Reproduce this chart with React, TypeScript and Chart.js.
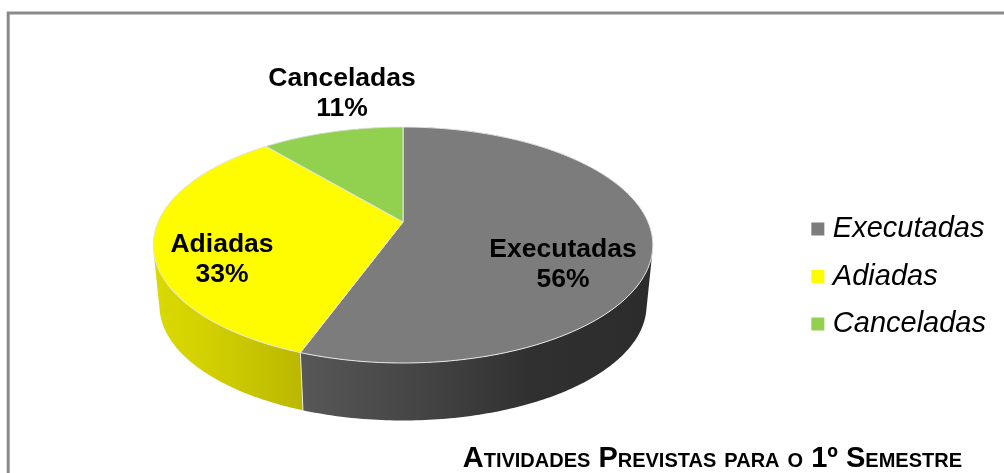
import React, { useEffect, useRef } from "react";
import { Chart, registerables } from "chart.js";

Chart.register(...registerables);

const categories = ["Executadas", "Adiadas", "Canceladas"];
const activityCounts = [5, 3, 1];
const topColors = ["#7C7C7C", "#FFFC00", "#92D050"];
const wallStops = [
  ["#575757", "#454545", "#303030", "#2C2C2C"],
  ["#D9D900", "#D2D000", "#C6C400", "#BAB700"],
  ["#6E9E3C", "#6E9E3C", "#6E9E3C", "#6E9E3C"],
];
const labelOffsets = [
  [160, 42.5],
  [-181, 37.5],
  [-61, -128],
];
const titleText = "Atividades Previstas para o 1º Semestre";

const FONT = '"Liberation Sans", Arial, sans-serif';
const VIEW = { x: 403, y: 222, a: 245, b: 113.5, k: -0.195, depth: 61, shrink: 0.975 };

function rim(angle: number, lower: boolean) {
  const u = Math.cos(angle);
  const v = Math.sin(angle);
  const w = 1 + VIEW.k * v;
  const s = lower ? VIEW.shrink : 1;
  return {
    x: VIEW.x + (VIEW.a * u * s) / w,
    y: VIEW.y + (VIEW.b * v * s) / w + (lower ? VIEW.depth : 0),
  };
}

function traceRim(ctx: CanvasRenderingContext2D, from: number, to: number, lower: boolean) {
  const steps = 180;
  for (let i = 0; i <= steps; i++) {
    const p = rim(from + ((to - from) * i) / steps, lower);
    ctx.lineTo(p.x, p.y);
  }
}

const pie3d = {
  id: "pie3d",
  beforeDraw(chart: any) {
    const ctx = chart.ctx;
    ctx.save();
    ctx.strokeStyle = "#8A8A8A";
    ctx.lineWidth = 3;
    ctx.beginPath();
    ctx.moveTo(8.2, chart.height);
    ctx.lineTo(8.2, 13);
    ctx.lineTo(chart.width, 13);
    ctx.stroke();
    ctx.restore();
  },
  afterLayout(chart: any) {
    chart.titleBlock.right = 962;
    chart.titleBlock.top += 3.5;
    chart.titleBlock.bottom += 3.5;
  },
  beforeDatasetDraw(chart: any, args: any) {
    const ctx = chart.ctx;
    const arcs = args.meta.data;
    ctx.save();
    ctx.lineJoin = "round";
    // side walls: same-orientation strips in a single path, so the silhouette stays closed
    arcs.forEach((arc: any, i: number) => {
      const steps = 240;
      const at = (j: number) => arc.startAngle + ((arc.endAngle - arc.startAngle) * j) / steps;
      const xs: number[] = [];
      for (let j = 0; j <= steps; j++) xs.push(rim(at(j), true).x);
      const g = ctx.createLinearGradient(Math.min(...xs), 0, Math.max(...xs), 0);
      const stops = wallStops[i];
      stops.forEach((c: string, n: number) => g.addColorStop(n / (stops.length - 1), c));
      ctx.fillStyle = g;
      ctx.beginPath();
      for (let j = 0; j < steps; j++) {
        const quad = [rim(at(j), false), rim(at(j + 1), false), rim(at(j + 1), true), rim(at(j), true)];
        let area = 0;
        quad.forEach((p, n) => {
          const q = quad[(n + 1) % 4];
          area += p.x * q.y - q.x * p.y;
        });
        if (area < 0) quad.reverse();
        ctx.moveTo(quad[0].x, quad[0].y);
        quad.slice(1).forEach((p) => ctx.lineTo(p.x, p.y));
        ctx.closePath();
      }
      ctx.fill();
    });
    // seams on the front of the wall
    arcs.forEach((arc: any) => {
      if (Math.sin(arc.startAngle) > 0) {
        const a = rim(arc.startAngle, false);
        const b = rim(arc.startAngle, true);
        ctx.strokeStyle = arc.options.borderColor;
        ctx.lineWidth = 1;
        ctx.beginPath();
        ctx.moveTo(a.x, a.y);
        ctx.lineTo(b.x, b.y);
        ctx.stroke();
      }
    });
    // top faces
    arcs.forEach((arc: any) => {
      ctx.fillStyle = arc.options.backgroundColor;
      ctx.strokeStyle = arc.options.borderColor;
      ctx.lineWidth = arc.options.borderWidth;
      ctx.beginPath();
      ctx.moveTo(VIEW.x, VIEW.y);
      traceRim(ctx, arc.startAngle, arc.endAngle, false);
      ctx.closePath();
      ctx.fill();
      ctx.stroke();
    });
    // data labels
    const total = activityCounts.reduce((s, v) => s + v, 0);
    ctx.fillStyle = "#000";
    ctx.font = `bold 26.5px ${FONT}`;
    ctx.textAlign = "center";
    ctx.textBaseline = "middle";
    categories.forEach((name, i) => {
      const cx = VIEW.x + labelOffsets[i][0];
      const cy = VIEW.y + labelOffsets[i][1];
      ctx.fillText(name, cx, cy - 15);
      ctx.fillText(`${Math.round((activityCounts[i] / total) * 100)}%`, cx, cy + 15);
    });
    ctx.restore();
    return false;
  },
};

export default function App() {
  const ref = useRef<HTMLCanvasElement>(null);
  useEffect(() => {
    const chart = new Chart(ref.current as HTMLCanvasElement, {
      type: "pie",
      plugins: [pie3d],
      data: {
        labels: categories,
        datasets: [
          {
            data: activityCounts,
            backgroundColor: topColors,
            borderColor: "#E6E6E6",
            borderWidth: 1,
          },
        ],
      },
      options: {
        responsive: false,
        animation: false,
        events: [],
        layout: { padding: { right: 8, top: 80, bottom: 0 } },
        plugins: {
          tooltip: { enabled: false },
          legend: {
            position: "right",
            align: "center",
            labels: {
              color: "#000",
              font: { family: FONT, size: 29, style: "italic" },
              usePointStyle: true,
              pointStyle: "rect",
              boxWidth: 1,
              boxHeight: 13,
              padding: 18.5,
              generateLabels(chart: any) {
                return (Chart as any).overrides.doughnut.plugins.legend.labels
                  .generateLabels(chart)
                  .map((l: any) => ({ ...l, lineWidth: 0 }));
              },
            },
          },
          title: {
            display: true,
            text: titleText,
            position: "bottom",
            align: "end",
            color: "#000",
            padding: { top: 0, bottom: 0 },
            font: { family: FONT, size: 29, weight: "small-caps bold" as any },
          },
        },
      } as any,
    });
    return () => chart.destroy();
  }, []);
  return (
    <div style={{ position: "fixed", left: 0, top: 0, width: 1004, height: 473, background: "#fff" }}>
      <canvas ref={ref} width={1004} height={473} style={{ display: "block" }} />
    </div>
  );
}
